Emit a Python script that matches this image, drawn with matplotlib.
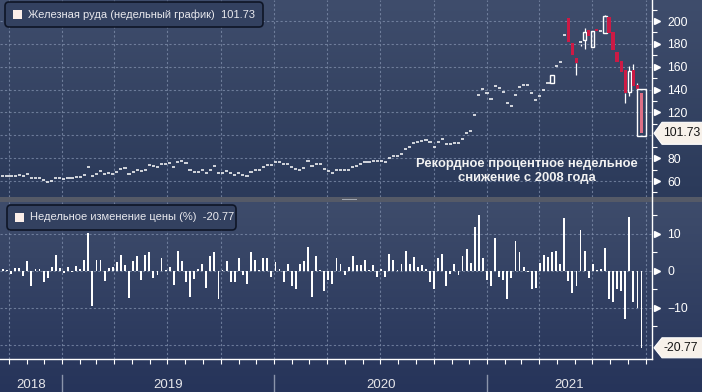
# iron ore weekly chart + weekly % change, bloomberg style
import numpy as np
import pandas as pd
import matplotlib
matplotlib.use("Agg")
import matplotlib.pyplot as plt
import matplotlib.dates as mdates
import matplotlib.transforms as mtrans
from matplotlib.colors import LinearSegmentedColormap
from matplotlib.patches import Rectangle, Polygon, FancyBboxPatch
from matplotlib.lines import Line2D

plt.rcParams['font.family'] = ['Liberation Sans', 'DejaVu Sans']

# ---- data ----
weeks = pd.date_range("2018-09-21", periods=158, freq="7D")

close_px = [
    64.4, 64.4, 64.4, 64.4, 65.0, 64.4, 65.9, 62.4, 62.4, 62.4,
    60.6, 58.8, 59.7, 62.4, 62.4, 61.5, 62.4, 62.4, 63.5, 63.5,
    65.3, 72.4, 64.4, 66.2, 68.5, 66.2, 66.8, 65.9, 67.9, 70.3,
    71.2, 65.9, 67.6, 70.0, 68.5, 70.0, 73.8, 72.9, 72.4, 74.7,
    74.7, 75.6, 72.4, 76.5, 77.4, 75.6, 69.4, 67.6, 67.6, 69.4,
    66.8, 69.4, 72.9, 66.8, 66.8, 68.5, 66.8,
    65.6, 66.7, 65.6, 64.4, 68.1, 69.6, 69.8, 71.9, 74.2, 73.7,
    76.3, 76.5, 74.7, 74.9, 71.9, 70.1, 70.0, 71.7, 77.1, 72.9,
    74.6, 74.7, 70.1, 68.6, 67.0, 69.2, 69.9, 69.5, 69.6, 72.1,
    73.4, 74.9, 76.5, 77.0, 77.8, 77.3, 77.3, 76.3, 79.7, 81.9,
    82.3, 83.8, 87.7, 90.0, 93.2, 94.3, 95.2, 96.2, 93.9, 89.8,
    93.7,
    96.5, 92.1, 92.1, 93.5, 93.0, 96.5, 102.3, 104.0, 117.5, 135.3,
    140.2, 136.7, 131.8, 142.9, 141.1, 137.6, 128.0, 125.6, 135.3, 142.0,
    143.8, 143.8, 136.7, 131.0, 134.4, 139.6, 145.5,
    152.8, 160.6, 164.1, 188.0, 181.9, 170.2, 163.5, 181.5, 190.7, 187.0,
    191.0, 190.9, 191.5, 204.4, 189.2, 174.6, 164.4, 155.6, 136.7, 156.5,
    143.2, 140.2, 101.73,
]

# full candles only visible for the last weeks
ohlc_start = 135
open_px = [145.5, 160.0, 163.6, 187.6, 202.4, 181.0, 167.4, 180.3, 183.4, 191.8,
           177.2, 192.7, 190.9, 189.2, 203.8, 190.6, 173.1, 165.2, 157.1, 138.1,
           157.1, 144.0, 136.7]
high_px = [152.8, 160.6, 164.1, 188.0, 202.4, 181.0, 167.4, 182.5, 193.6, 191.8,
           191.0, 193.0, 191.5, 205.5, 203.8, 190.6, 173.1, 165.2, 157.1, 161.0,
           162.0, 146.0, 137.3]
low_px = [145.5, 160.0, 163.6, 187.6, 181.9, 170.2, 152.8, 178.0, 175.2, 187.0,
          177.2, 190.9, 190.9, 189.2, 189.2, 174.6, 164.4, 155.6, 128.0, 134.0,
          143.2, 140.2, 101.73]

weekly_chg = [
    0.5, 0.3, -0.8, 0.9, 0.9, -1.3, 2.7, -4.0, 0.5, 0.5,
    -2.9, -2.0, 1.2, 4.3, 0.8, -0.5, 1.0, -0.3, 1.3, 0.5,
    3.1, 10.2, -9.5, 3.0, 3.0, -2.7, 0.7, 1.2, 2.5, 4.2,
    1.5, -7.2, 2.8, 4.0, -2.5, 4.3, 5.0, -2.0, -1.0, 3.5,
    0.3, 1.0, -3.8, 5.5, 2.6, -3.0, -7.0, -2.2, 0.5, 2.0,
    -4.5, 4.0, 5.0, -7.5, 0.3, 2.7, -3.0,
    -3.0, 3.5, -1.0, -3.5, 5.0, 3.0, 0.3, 3.5, 3.5, -1.5,
    2.5, 0.5, -3.0, 2.0, -4.0, -5.0, 2.0, 2.8, 6.5, -7.0,
    4.0, 0.3, -5.5, -2.5, -3.5, 3.5, 2.0, -1.0, 1.0, 4.0,
    1.5, 1.5, 3.0, 0.3, 1.5, -1.5, 0.5, -1.5, 4.5, 3.0,
    0.3, 2.0, 5.5, 2.0, 3.8, 1.0, 1.5, 0.5, -3.0, -5.0,
    3.5,
    4.5, -4.0, -0.7, 2.0, -1.0, 4.0, 6.0, 2.2, 12.0, 15.0,
    3.5, -2.5, -4.0, 9.0, -1.5, -2.5, -7.5, -2.0, 8.0, 5.0,
    1.0, -0.3, -5.0, -4.5, 2.2, 4.2, 3.8, 5.0, 5.3, 2.0,
    14.3, -2.8, -6.0, -4.0, 11.0, 5.5, -2.0, 2.0, 0.2, 0.5,
    6.3, -7.5, -8.3, -5.0, -5.3, -13.0, 14.5, -8.3, -10.0, -20.77,
]
last_px = 101.73
last_chg = -20.77

title_top = "Железная руда (недельный график)  101.73"
title_bot = "Недельное изменение цены (%)  -20.77"
note = "Рекордное процентное недельное\nснижение с 2008 года"
years = [2018, 2019, 2020, 2021]
px_ticks = [60, 80, 100, 120, 140, 160, 180, 200]
px_hidden = [100]          # label sits under the last-price tag
chg_ticks = [-10, 0, 10]

# ---- figure ----
W, H = 702, 392
fig = plt.figure(figsize=(W / 100, H / 100), dpi=100)
fig.patch.set_facecolor("#2a3858")

def px_axes(x0, y0, x1, y1):
    # box in pixels, origin top-left
    return fig.add_axes([x0 / W, 1 - y1 / H, (x1 - x0) / W, (y1 - y0) / H])

def gradient(ax, c_top, c_bot):
    cmap = LinearSegmentedColormap.from_list("g", [c_top, c_bot])
    ax.imshow(np.linspace(0, 1, 256).reshape(-1, 1), cmap=cmap,
              aspect="auto", extent=[0, 1, 0, 1])
    ax.set_axis_off()

gradient(px_axes(0, 0, W, 197), "#3f4d6c", "#2b3a5a")
gradient(px_axes(0, 202, W, H), "#3e4c6b", "#26345a")

ax1 = px_axes(0, 0, 652, 197)
ax2 = px_axes(0, 202, 652, 359)
for ax in (ax1, ax2):
    ax.set_facecolor("none")
    for s in ax.spines.values():
        s.set_visible(False)

xmin = mdates.date2num(pd.Timestamp("2018-09-16"))
xmax = mdates.date2num(pd.Timestamp("2021-10-12"))
xd = mdates.date2num(weeks)
quarters = pd.date_range("2018-10-01", "2021-10-01", freq="QS")
grid_kw = dict(color="#8190ad", linestyle=(0, (2, 2)), linewidth=0.8, alpha=0.75)
red = "#cc1a45"

# top panel: candles
ax1.set_xlim(xmin, xmax)
ax1.set_ylim(46, 218.4)
ax1.hlines(close_px[:ohlc_start], xd[:ohlc_start] - 2.7, xd[:ohlc_start] + 2.7,
           color="white", lw=1.1, zorder=3)
bw = 5.8
n_ohlc = len(open_px)
for j in range(n_ohlc):
    i = ohlc_start + j
    x = xd[i]
    o, c, h, l = open_px[j], close_px[i], high_px[j], low_px[j]
    lo, hi = min(o, c), max(o, c)
    last = (i == len(close_px) - 1)
    if h > hi:
        ax1.vlines(x, hi, h, color="white", lw=0.9, zorder=3)
    if l < lo:
        ax1.vlines(x, l, lo, color="white", lw=0.9, zorder=3)
    if hi - lo < 1.2:
        ax1.hlines(c, x - 2.7, x + 2.7, color="white", lw=1.1, zorder=4)
    elif c > o:
        ax1.add_patch(Rectangle((x - bw / 2, lo), bw, hi - lo, fc="none",
                                ec="white", lw=1.0, zorder=4))
    else:
        ax1.add_patch(Rectangle((x - bw / 2, lo), bw, hi - lo,
                                fc="#de6f86" if last else red, ec="none", zorder=4))

# highlight box round the last candle
ax1.add_patch(Rectangle((xd[-1] - 7.5, last_px - 2.3), 15, high_px[-1] - last_px + 5.3,
                        fc="none", ec="white", lw=1.0, zorder=5))

ax1.text(527 / 652, 0.132, note, transform=ax1.transAxes, ha="center", va="center",
         fontsize=9.4, fontweight="bold", color="#f2f2f2", linespacing=1.25, zorder=6)

ax1.yaxis.tick_right()
ax1.set_yticks(px_ticks)
ax1.set_yticklabels(["" if v in px_hidden else str(v) for v in px_ticks])
ax1.set_yticks(range(50, 220, 20), minor=True)
ax1.tick_params(axis="y", which="major", length=0, pad=11, labelsize=8.8, labelcolor="white")
ax1.tick_params(axis="y", which="minor", length=3.5, width=0.8, color="white")
ax1.set_xticks(mdates.date2num(quarters))
ax1.tick_params(axis="x", length=0, labelbottom=False)
ax1.grid(True, which="major", **grid_kw)

# bottom panel: weekly change bars
ax2.set_xlim(xmin, xmax)
ax2.set_ylim(-23.8, 18.65)
ax2.bar(xd, weekly_chg, width=3.2, color="white", zorder=3)
ax2.yaxis.tick_right()
ax2.set_yticks([-20] + chg_ticks)
ax2.set_yticklabels([""] + [str(v).replace("-", "\u2212") for v in chg_ticks])
ax2.set_yticks([-15, -5, 5, 15], minor=True)
ax2.tick_params(axis="y", which="major", length=0, pad=11, labelsize=8.8, labelcolor="white")
ax2.tick_params(axis="y", which="minor", length=3.5, width=0.8, color="white")
ax2.set_xticks(mdates.date2num(quarters))
ax2.xaxis.set_minor_locator(mdates.MonthLocator())
ax2.tick_params(axis="x", which="both", length=3.5, width=0.8, color="white",
                direction="out", labelbottom=False)
ax2.grid(True, which="major", **grid_kw)
ax2.spines["bottom"].set_visible(True)
ax2.spines["bottom"].set_color("white")
ax2.spines["bottom"].set_linewidth(1.0)

# triangle markers + last value tags on the right axis
for ax, ticks, val, half in ((ax1, [v for v in px_ticks if v not in px_hidden], last_px, 11 / 1.143),
                             (ax2, chg_ticks, last_chg, 10 / 3.7)):
    tr = mtrans.blended_transform_factory(ax.transAxes, ax.transData)
    ax.plot([1 + 5 / 652] * len(ticks), ticks, ls="none", marker=">", ms=4.5,
            color="white", transform=tr, clip_on=False, zorder=6)
    a, b = 1 + 2 / 652, 1 + 10 / 652
    tag = Polygon([(a, val), (b, val + half), (1.09, val + half),
                   (1.09, val - half), (b, val - half)], closed=True,
                  fc="#f7f1ea", ec="white", lw=0.8, transform=tr, clip_on=False, zorder=7)
    ax.add_patch(tag)
    ax.text(1 + 11 / 652, val, f"{val:.2f}", transform=tr, ha="left", va="center",
            fontsize=8.8, color="#151515", clip_on=False, zorder=8)

# year labels and separators under the axis
trx = mtrans.blended_transform_factory(ax2.transData, ax2.transAxes)
for y in years:
    s = max(mdates.date2num(pd.Timestamp(f"{y}-01-01")), xmin)
    e = min(mdates.date2num(pd.Timestamp(f"{y + 1}-01-01")), xmax)
    ax2.text((s + e) / 2, (359 - 385) / 157, str(y), transform=trx, ha="center",
             va="center", fontsize=9.5, color="#e6e6ea", clip_on=False)
    if y > 2018:
        ax2.plot([s, s], [(359 - 375) / 157, (359 - 392) / 157], color="#8a94aa",
                 lw=1.0, transform=trx, clip_on=False)

# separator between panels
fig.add_artist(Rectangle((0, (H - 202) / 100), W / 100, 0.05, fc="#555a67", ec="none",
                         transform=fig.dpi_scale_trans))
fig.add_artist(Rectangle((3.42, (H - 200.3) / 100), 0.15, 0.012, fc="#a0a6b0", ec="none",
                         transform=fig.dpi_scale_trans))
fig.add_artist(Line2D([652 / W, 652 / W], [1, 1 - 359 / H], color="white", lw=1.0,
                      transform=fig.transFigure))

# legend boxes
def legend_box(x0, y0, x1, y1, label):
    fig.add_artist(FancyBboxPatch((x0 / 100, (H - y1) / 100), (x1 - x0) / 100, (y1 - y0) / 100,
                                  boxstyle="round,pad=0,rounding_size=0.04",
                                  fc="#334160", ec="#0e1526", lw=1.2,
                                  transform=fig.dpi_scale_trans))
    yc = (y0 + y1) / 2
    fig.add_artist(Rectangle(((x0 + 8) / 100, (H - yc - 4.5) / 100), 0.09, 0.09,
                             fc="#fbeee9", ec="none", transform=fig.dpi_scale_trans))
    fig.text((x0 + 23) / 100, (H - yc) / 100, label, transform=fig.dpi_scale_trans,
             ha="left", va="center", fontsize=8, color="#e9e9ee")

legend_box(5, 2, 263, 27, title_top)
legend_box(7, 205, 236, 230, title_bot)

fig.savefig("out.png", dpi=100, facecolor=fig.get_facecolor())
